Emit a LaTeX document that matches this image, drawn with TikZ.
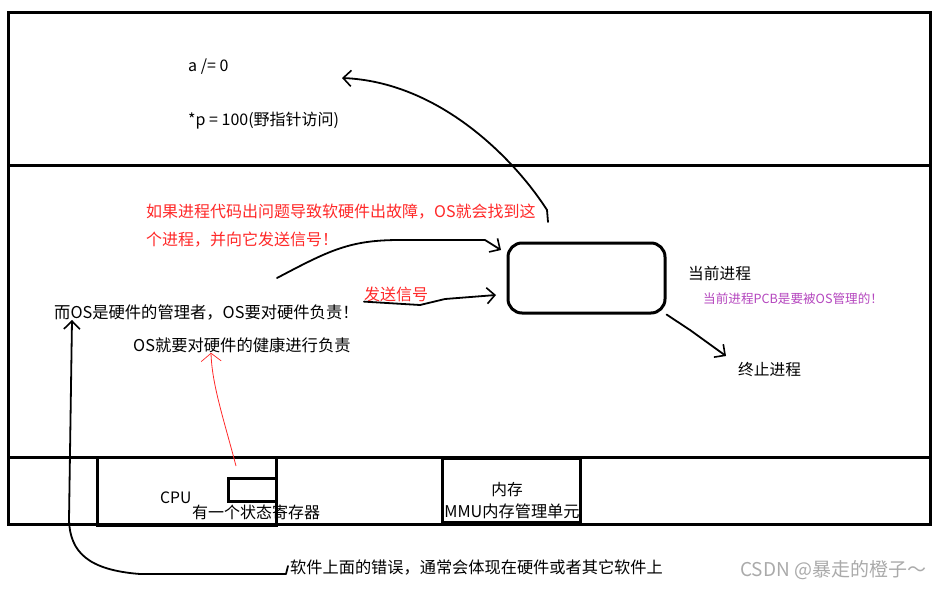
\documentclass[tikz,border=0pt]{standalone}
\usepackage{fontspec}
\setmainfont{Noto Sans CJK SC}
\usetikzlibrary{arrows.meta}
\definecolor{sigred}{RGB}{255,40,40}
\definecolor{notepurple}{RGB}{180,70,190}
\definecolor{markgray}{RGB}{170,170,170}
\begin{document}
\begin{tikzpicture}[x=1pt,y=-1pt,
  frame/.style={line width=3pt},
  txt/.style={inner sep=0pt, anchor=west, font=\fontsize{15.7}{15.7}\selectfont},
  red txt/.style={txt, text=sigred, font=\fontsize{16}{16}\selectfont},
  hand/.style={line width=1.8pt, line join=round, line cap=round},
  tip/.style={-{Straight Barb[length=8pt,width=16pt,line width=1.6pt]}},
  thin tip/.style={-{Straight Barb[length=8pt,width=20pt,line width=0.7pt]}},
  box/.style={draw, line width=3pt, inner sep=0pt},
]
\useasboundingbox (0,0) rectangle (941,589);
% frame
\draw[frame] (8,12) rectangle (930,524);
\draw[frame] (8,165) -- (930,165);
\draw[frame] (8,457) -- (930,457);

% top texts
\node[txt, font=\fontsize{16}{16}\selectfont] (a) at (188,67) {a /= 0};
\node[txt, font=\fontsize{16}{16}\selectfont] (p) at (188,121) {*p = 100(野指针访问)};

% middle texts
\node[red txt] (r1) at (146,212) {如果进程代码出问题导致软硬件出故障，OS就会找到这};
\node[red txt] (r2) at (146,240) {个进程，并向它发送信号！};
\node[txt, font=\fontsize{16.3}{16.3}\selectfont] (hw) at (54,312) {而OS是硬件的管理者，OS要对硬件负责！};
\node[txt, font=\fontsize{16.3}{16.3}\selectfont] (health) at (133,345) {OS就要对硬件的健康进行负责};
\node[red txt] (send) at (364,294) {发送信号};
\node[txt] (cur) at (688,273) {当前进程};
\node[txt, text=notepurple, font=\fontsize{12.6}{12.6}\selectfont] (note) at (703,299) {当前进程PCB是要被OS管理的！};
\node[txt] (term) at (738,370) {终止进程};
\node[draw, line width=3pt, rounded corners=14pt, minimum width=157pt, minimum height=70pt, inner sep=0pt] (pcb) at (586.5,278) {};

% bottom boxes
\node[box, minimum width=179pt, minimum height=68pt] (cpu) at (186.5,491) {};
\draw[line width=4pt] (97,525) -- (276,525);
\node[box, minimum width=48pt, minimum height=23pt] (reg) at (252,489.5) {};
\node[txt] (cputxt) at (160,498) {CPU};
\node[txt, font=\fontsize{16}{16}\selectfont] (regtxt) at (192,512) {有一个状态寄存器};
\node[box, minimum width=138pt, minimum height=64pt] (mem) at (511,490) {};
\node[txt, anchor=center] (memtxt) at (507,490) {内存};
\node[txt, anchor=center, font=\fontsize{16.2}{16.2}\selectfont] (mmu) at (512,511) {MMU内存管理单元};

% bottom text
\node[txt, font=\fontsize{16.2}{16.2}\selectfont] (err) at (290,567) {软件上面的错误，通常会体现在硬件或者其它软件上};
\node[txt, text=markgray, font=\fontsize{19}{19}\selectfont] (mark) at (740,570) {CSDN @暴走的橙子～};

% connectors
\coordinate (s1) at (277,278);
\coordinate (e1) at (501,250);
\draw[hand, tip] (s1) .. controls (330,250) and (350,240) .. (400,240) -- (485,240) -- (e1);

\coordinate (e2) at (496,295);
\draw[hand, tip] (send.south west) -- (420,305) -- (445,299) -- (e2);

\coordinate (e3) at (726,356);
\draw[hand, tip] (pcb.south east) -- (690,330) -- (e3);

\coordinate (s4) at (548,222);
\coordinate (e4) at (342,78);
\draw[hand, tip] (s4) -- (547,210) .. controls (515,160) and (440,82) .. (e4);

\coordinate (s5) at (236,466);
\draw[sigred, line width=0.8pt, thin tip] (s5) .. controls (224,420) and (212,385) .. (health.south -| 211,0);

\coordinate (s6) at (288,566);
\draw[hand, tip] (s6) -- (286,574) -- (140,574) .. controls (88,570) and (70,552) .. (69,520) -- (hw.south -| 72,0);
\end{tikzpicture}
\end{document}
